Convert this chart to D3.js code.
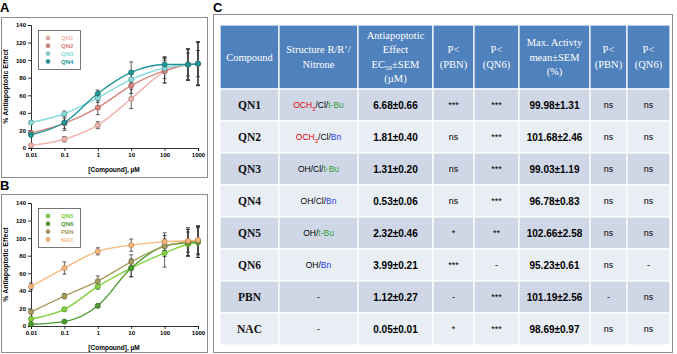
<!DOCTYPE html>
<html>
<head>
<meta charset="utf-8">
<script src="https://cdn.jsdelivr.net/npm/d3@7"></script>
<style>
  body { margin: 0; background: #fff; }
  svg { display: block; }
</style>
</head>
<body>
<svg id="fig" width="677" height="354"></svg>
<script>
// concentrations (µM) and axis ticks
const concentrations = [0.01, 0.1, 1, 10, 100, 500, 1000];
const xTicks = [0.01, 0.1, 1, 10, 100, 1000];
const yTicks = [0, 20, 40, 60, 80, 100, 120, 140];

// panel A series
const qn1Vals = [3, 10, 26, 56, 87, 95, 96];
const qn1Err  = [2, 3, 4, 11, 13, 18, 25];
const qn2Vals = [17, 28, 46, 71, 88, 95, 96];
const qn2Err  = [2, 6, 8, 9, 14, 17, 25];
const qn3Vals = [29, 39, 57, 78, 91, 95, 96];
const qn3Err  = [2, 3, 5, 7, 12, 18, 24];
const qn4Vals = [15, 29, 62, 86, 95, 95, 96];
const qn4Err  = [2, 9, 4, 12, 9, 13, 15];

// panel B series
const qn5Vals = [8, 19, 45, 66, 83, 93, 95];
const qn5Err  = [2, 2, 3, 10, 16, 14, 17];
const qn6Vals = [2, 5, 23, 66, 91, 95, 96];
const qn6Err  = [1, 1, 2, 10, 5, 15, 18];
const pbnVals = [16, 34, 51, 73, 91, 96, 97];
const pbnErr  = [2, 3, 6, 8, 12, 16, 16];
const nacVals = [45, 66, 85, 92, 96, 97, 98];
const nacErr  = [4, 7, 4, 7, 10, 13, 16];

// table C
const headers = [
  ["Compound"],
  ["Structure R/R’/", "Nitrone"],
  ["Antiapoptotic", "Effect", "EC50±SEM", "(µM)"],
  ["P<", "(PBN)"],
  ["P<", "(QN6)"],
  ["Max. Activty", "mean±SEM", "(%)"],
  ["P<", "(PBN)"],
  ["P<", "(QN6)"]
];
const compounds = ["QN1", "QN2", "QN3", "QN4", "QN5", "QN6", "PBN", "NAC"];
// structure pieces: [text, kind]  kind: r = red, g = green, b = blue, k = black, s = red subscript
const structures = [
  [["OCH", "r"], ["3", "s"], ["/Cl/", "k"], ["t-Bu", "g"]],
  [["OCH", "r"], ["3", "s"], ["/Cl/", "k"], ["Bn", "b"]],
  [["OH/Cl/", "k"], ["t-Bu", "g"]],
  [["OH/Cl/", "k"], ["Bn", "b"]],
  [["OH/", "k"], ["t-Bu", "g"]],
  [["OH/", "k"], ["Bn", "b"]],
  [["-", "k"]],
  [["-", "k"]]
];
const ec50 = ["6.68±0.66", "1.81±0.40", "1.31±0.20", "0.53±0.06", "2.32±0.46", "3.99±0.21", "1.12±0.27", "0.05±0.01"];
const ecPbn = ["***", "ns", "ns", "ns", "*", "***", "-", "*"];
const ecQn6 = ["***", "***", "***", "***", "**", "-", "***", "***"];
const maxAct = ["99.98±1.31", "101.68±2.46", "99.03±1.19", "96.78±0.83", "102.66±2.58", "95.23±0.61", "101.19±2.56", "98.69±0.97"];
const maxPbn = ["ns", "ns", "ns", "ns", "ns", "ns", "-", "ns"];
const maxQn6 = ["ns", "ns", "ns", "ns", "ns", "-", "ns", "ns"];

const svg = d3.select("#fig");
const sans = "'Liberation Sans', Arial, sans-serif";
const serif = "'Liberation Serif', 'Times New Roman', serif";

// panel letters
svg.append("text").attr("x", 0).attr("y", 12).text("A")
  .attr("font-family", sans).attr("font-weight", "bold").attr("font-size", 13);
svg.append("text").attr("x", 0).attr("y", 190).text("B")
  .attr("font-family", sans).attr("font-weight", "bold").attr("font-size", 13);
svg.append("text").attr("x", 213).attr("y", 12).text("C")
  .attr("font-family", sans).attr("font-weight", "bold").attr("font-size", 13);

function drawPanel(frame, yBottom, yTop, series) {
  const g = svg.append("g");
  g.append("rect")
    .attr("x", frame.x + 0.5).attr("y", frame.y + 0.5)
    .attr("width", frame.w).attr("height", frame.h)
    .attr("fill", "#fff").attr("stroke", "#8c8c8c");

  const x = d3.scaleLog().domain([0.01, 1000]).range([31, 198]);
  const y = d3.scaleLinear().domain([0, 140]).range([yBottom, yTop]);

  const yAxis = g.append("g").attr("transform", "translate(31,0)")
    .call(d3.axisLeft(y).tickValues(yTicks).tickSize(3).tickPadding(2));
  const xAxis = g.append("g").attr("transform", `translate(0,${y(0)})`)
    .call(d3.axisBottom(x).tickValues(xTicks).tickSize(3).tickPadding(2).tickFormat(d => String(d)));
  [yAxis, xAxis].forEach(a => {
    a.selectAll("path, line").attr("stroke", "#000").attr("stroke-width", 0.8);
    a.selectAll("text").attr("font-family", sans).attr("font-weight", "bold")
      .attr("font-size", 6).attr("fill", "#000");
  });

  g.append("text")
    .attr("transform", `translate(8,${(yBottom + yTop) / 2}) rotate(-90)`)
    .attr("text-anchor", "middle")
    .attr("font-family", sans).attr("font-weight", "bold").attr("font-size", 7)
    .text("% Antiapoptotic Effect");
  g.append("text")
    .attr("x", 114).attr("y", yBottom + 24)
    .attr("text-anchor", "middle")
    .attr("font-family", sans).attr("font-weight", "bold").attr("font-size", 6.5)
    .text("[Compound], µM");

  const line = d3.line()
    .x(d => x(d.c)).y(d => y(d.v))
    .curve(d3.curveMonotoneX);

  series.forEach(s => {
    const pts = concentrations.map((c, i) => ({ c: c, v: s.vals[i], e: s.err[i] }));
    g.append("path").datum(pts)
      .attr("d", line).attr("fill", "none")
      .attr("stroke", s.color).attr("stroke-width", 1.4);
  });
  series.forEach(s => {
    const pts = concentrations.map((c, i) => ({ c: c, v: s.vals[i], e: s.err[i] }));
    const eb = g.append("g").selectAll("g").data(pts).join("g");
    eb.append("line")
      .attr("x1", d => x(d.c)).attr("x2", d => x(d.c))
      .attr("y1", d => y(d.v - d.e)).attr("y2", d => y(d.v + d.e));
    eb.append("line")
      .attr("x1", d => x(d.c) - 2).attr("x2", d => x(d.c) + 2)
      .attr("y1", d => y(d.v - d.e)).attr("y2", d => y(d.v - d.e));
    eb.append("line")
      .attr("x1", d => x(d.c) - 2).attr("x2", d => x(d.c) + 2)
      .attr("y1", d => y(d.v + d.e)).attr("y2", d => y(d.v + d.e));
    eb.selectAll("line").attr("stroke", "#222").attr("stroke-width", 0.7);
  });
  series.forEach(s => {
    const pts = concentrations.map((c, i) => ({ c: c, v: s.vals[i] }));
    g.append("g").selectAll("circle").data(pts).join("circle")
      .attr("cx", d => x(d.c)).attr("cy", d => y(d.v)).attr("r", 2.6)
      .attr("fill", s.color)
      .attr("stroke", d3.color(s.color).darker(1.2)).attr("stroke-width", 0.6);
  });

  // legend
  const lg = g.append("g").attr("transform", `translate(38,${yTop + 5})`);
  lg.append("rect").attr("x", 0.5).attr("y", 0.5).attr("width", 42).attr("height", 39)
    .attr("fill", "#fff").attr("stroke", "#555").attr("stroke-width", 0.8);
  series.forEach((s, i) => {
    const yy = 8 + i * 7.8;
    lg.append("circle").attr("cx", 10).attr("cy", yy).attr("r", 2)
      .attr("fill", s.color).attr("stroke", d3.color(s.color).darker(1.2)).attr("stroke-width", 0.5);
    lg.append("text").attr("x", 23).attr("y", yy + 2.2)
      .attr("font-family", sans).attr("font-weight", "bold").attr("font-size", 6)
      .attr("fill", s.color).text(s.name);
  });
}

drawPanel({ x: 1, y: 17, w: 206, h: 160 }, 148, 25, [
  { name: "QN1", vals: qn1Vals, err: qn1Err, color: "#f2b3ae" },
  { name: "QN2", vals: qn2Vals, err: qn2Err, color: "#d8837e" },
  { name: "QN3", vals: qn3Vals, err: qn3Err, color: "#86dcdc" },
  { name: "QN4", vals: qn4Vals, err: qn4Err, color: "#1f9595" }
]);
drawPanel({ x: 1, y: 194, w: 206, h: 158 }, 326, 203, [
  { name: "QN5", vals: qn5Vals, err: qn5Err, color: "#80d13c" },
  { name: "QN6", vals: qn6Vals, err: qn6Err, color: "#4f9a2e" },
  { name: "PBN", vals: pbnVals, err: pbnErr, color: "#aa9e5e" },
  { name: "NAC", vals: nacVals, err: nacErr, color: "#f9b77a" }
]);

// ---- table C ----
svg.append("rect").attr("x", 213.5).attr("y", 14.5).attr("width", 459).attr("height", 338)
  .attr("fill", "#fff").attr("stroke", "#8c8c8c");

const colEdges = [220, 279, 358, 433, 474, 519, 590, 627, 670];
const headTop = 25, headBottom = 89;
const rowY = d3.scaleBand().domain(compounds).range([headBottom, 345]);
const tbl = svg.append("g");
const colMid = i => (colEdges[i] + colEdges[i + 1]) / 2;

// header
headers.forEach((lines, i) => {
  tbl.append("rect")
    .attr("x", colEdges[i]).attr("y", headTop)
    .attr("width", colEdges[i + 1] - colEdges[i]).attr("height", headBottom - headTop)
    .attr("fill", "#4f81bd").attr("stroke", "#fff").attr("stroke-width", 1.2);
  const mid = (headTop + headBottom) / 2;
  lines.forEach((ln, j) => {
    const t = tbl.append("text")
      .attr("x", colMid(i)).attr("y", mid - (lines.length - 1) * 14.5 / 2 + j * 14.5)
      .attr("dy", "0.35em").attr("text-anchor", "middle")
      .attr("font-family", serif)
      .attr("font-size", 10.5).attr("fill", "#fff");
    if (ln.startsWith("EC50")) {
      t.append("tspan").text("EC");
      t.append("tspan").attr("font-size", 7).attr("dy", 2).text("50");
      t.append("tspan").attr("dy", -2).text("±SEM");
    } else {
      t.text(ln);
    }
  });
});

const kindColor = { r: "#e00000", s: "#e00000", g: "#2f9e33", b: "#1f3fe6", k: "#000" };

compounds.forEach((cmp, r) => {
  const y0 = rowY(cmp), h = rowY.bandwidth(), cy = y0 + h / 2;
  const fill = r % 2 === 0 ? "#cfd7e7" : "#e9edf4";
  colEdges.slice(0, -1).forEach((cx, i) => {
    tbl.append("rect")
      .attr("x", cx).attr("y", y0)
      .attr("width", colEdges[i + 1] - cx).attr("height", h)
      .attr("fill", fill).attr("stroke", "#fff").attr("stroke-width", 1.2);
  });
  // compound name
  tbl.append("text").attr("x", colMid(0)).attr("y", cy).attr("dy", "0.35em")
    .attr("text-anchor", "middle").attr("font-family", serif).attr("font-weight", "bold")
    .attr("font-size", 11.5).attr("fill", "#111").text(cmp);
  // structure
  const st = tbl.append("text").attr("x", colMid(1)).attr("y", cy).attr("dy", "0.35em")
    .attr("text-anchor", "middle").attr("font-family", sans).attr("font-size", 8.5);
  structures[r].forEach(([txt, kind]) => {
    const sp = st.append("tspan").attr("fill", kindColor[kind]).text(txt);
    if (kind === "s") sp.attr("font-size", 6).attr("baseline-shift", "sub");
  });
  // remaining columns
  const cells = [ec50[r], ecPbn[r], ecQn6[r], maxAct[r], maxPbn[r], maxQn6[r]];
  cells.forEach((v, k) => {
    const isVal = k === 0 || k === 3;
    tbl.append("text").attr("x", colMid(k + 2)).attr("y", cy).attr("dy", "0.35em")
      .attr("text-anchor", "middle").attr("font-family", sans)
      .attr("font-weight", isVal ? "bold" : "normal")
      .attr("font-size", isVal ? 10 : 9).attr("fill", "#000")
      .text(v);
  });
});
</script>
</body>
</html>
